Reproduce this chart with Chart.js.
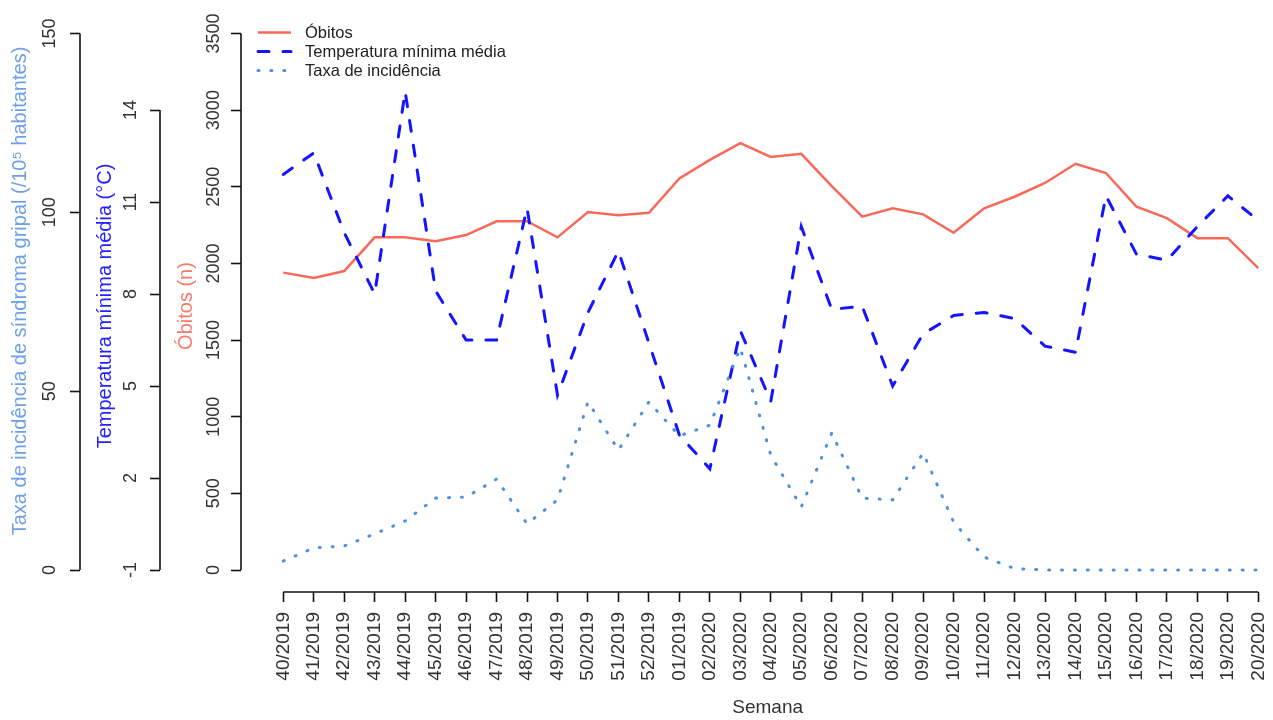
<!DOCTYPE html>
<html lang="pt">
<head>
<meta charset="utf-8">
<title>Óbitos, temperatura mínima e incidência de síndrome gripal</title>
<script src="https://cdn.jsdelivr.net/npm/chart.js@4.4.1/dist/chart.umd.min.js"></script>
<style>
  html, body { margin: 0; padding: 0; background: #fff; }
  #wrap { width: 1273px; height: 720px; position: relative; }
</style>
</head>
<body>
<div id="wrap"><canvas id="chart"></canvas></div>
<script>
// Semanas epidemiológicas
const semanas = [
    '40/2019', '41/2019', '42/2019', '43/2019', '44/2019', '45/2019', '46/2019',
    '47/2019', '48/2019', '49/2019', '50/2019', '51/2019', '52/2019', '01/2019',
    '02/2020', '03/2020', '04/2020', '05/2020', '06/2020', '07/2020', '08/2020',
    '09/2020', '10/2020', '11/2020', '12/2020', '13/2020', '14/2020', '15/2020',
    '16/2020', '17/2020', '18/2020', '19/2020', '20/2020'
];

// Óbitos (n)
const obitos = [1940, 1905, 1950, 2170, 2170, 2145, 2185, 2275, 2275, 2170, 2335,
    2315, 2330, 2555, 2675, 2785, 2695, 2715, 2505, 2305, 2360, 2320, 2200,
    2360, 2435, 2525, 2650, 2590, 2370, 2295, 2165, 2165, 1970];

// Temperatura mínima média (°C)
const temperatura = [11.9, 12.6, 10.0, 8.0, 14.6, 8.1, 6.5, 6.5, 10.8, 4.7, 7.4,
    9.4, 6.4, 3.4, 2.3, 6.8, 4.5, 10.2, 7.5, 7.6, 5.0, 6.7, 7.3, 7.4, 7.2, 6.3,
    6.1, 11.2, 9.3, 9.1, 10.2, 11.2, 10.4];

// Taxa de incidência de síndrome gripal (/10^5 habitantes)
const incidencia = [2.5, 6.2, 6.7, 10.1, 13.7, 20.1, 20.4, 25.4, 12.9, 19.6, 47.0,
    33.5, 47.0, 37.5, 40.5, 62.1, 32.1, 17.6, 38.3, 20.1, 19.6, 32.7, 13.4, 3.6,
    0.4, 0, 0, 0, 0, 0, 0, 0, 0];

// Marcas dos eixos
const ticksObitos = [0, 500, 1000, 1500, 2000, 2500, 3000, 3500];
const ticksTemp = [-1, 2, 5, 8, 11, 14];
const ticksIncidencia = [0, 50, 100, 150];

const toPoints = (arr) => arr.map((v, i) => ({ x: i, y: v }));
const setTicks = (vals) => (scale) => { scale.ticks = vals.map(v => ({ value: v })); };

Chart.defaults.font.family = '"Liberation Sans", Arial, Helvetica, sans-serif';

// Axis lines only between first and last tick (R style)
const axisLines = {
    id: 'axisLines',
    afterDraw(chart) {
        const ctx = chart.ctx;
        ctx.save();
        ctx.strokeStyle = '#111';
        ctx.lineWidth = 1.6;
        ['y', 'yTemp', 'yInc'].forEach(id => {
            const s = chart.scales[id];
            const t = s.ticks;
            ctx.beginPath();
            ctx.moveTo(s.right, s.getPixelForValue(t[0].value));
            ctx.lineTo(s.right, s.getPixelForValue(t[t.length - 1].value));
            ctx.stroke();
        });
        const sx = chart.scales.x;
        const tx = sx.ticks;
        ctx.beginPath();
        ctx.moveTo(sx.getPixelForValue(tx[0].value), sx.top);
        ctx.lineTo(sx.getPixelForValue(tx[tx.length - 1].value), sx.top);
        ctx.stroke();
        ctx.restore();
    }
};

// Legend inside the plot, top left
const legendaR = {
    id: 'legendaR',
    afterDraw(chart) {
        const ctx = chart.ctx;
        const x0 = chart.chartArea.left + 16;
        ctx.save();
        ctx.font = '16.5px "Liberation Sans", Arial, sans-serif';
        ctx.textBaseline = 'middle';
        chart.data.datasets.forEach((ds, i) => {
            const y = 32.5 + i * 19;
            ctx.strokeStyle = ds.borderColor;
            ctx.lineWidth = ds.borderWidth;
            ctx.lineCap = ds.borderCapStyle || 'butt';
            ctx.setLineDash(ds.borderDash || []);
            ctx.beginPath();
            ctx.moveTo(x0 + 1, y);
            ctx.lineTo(x0 + 34, y);
            ctx.stroke();
            ctx.setLineDash([]);
            ctx.fillStyle = '#222';
            ctx.fillText(ds.label, x0 + 48, y + 1);
        });
        ctx.restore();
    }
};

const ctx = document.getElementById('chart');
new Chart(ctx, {
    type: 'line',
    data: {
        datasets: [{
            label: 'Óbitos',
            data: toPoints(obitos),
            yAxisID: 'y',
            borderColor: '#f8695a',
            borderWidth: 2.5,
            order: 3
        }, {
            label: 'Temperatura mínima média',
            data: toPoints(temperatura),
            yAxisID: 'yTemp',
            borderColor: '#1414ff',
            borderWidth: 3,
            borderDash: [11, 14],
            borderCapStyle: 'round',
            order: 2
        }, {
            label: 'Taxa de incidência',
            data: toPoints(incidencia),
            yAxisID: 'yInc',
            borderColor: '#4f8fdf',
            borderWidth: 3,
            borderDash: [1, 11.9],
            borderCapStyle: 'round',
            order: 1
        }]
    },
    options: {
        responsive: true,
        maintainAspectRatio: false,
        animation: false,
        layout: { padding: { top: 20, right: 3, bottom: 0, left: 0 } },
        elements: {
            point: { radius: 0 },
            line: { tension: 0, fill: false }
        },
        plugins: {
            legend: { display: false },
            tooltip: { enabled: false }
        },
        scales: {
            x: {
                type: 'linear',
                position: 'bottom',
                min: -1.388,
                max: 32.384,
                afterBuildTicks: setTicks(semanas.map((_, i) => i)),
                afterFit: (s) => {
                    s.height = 128;
                    s.paddingLeft = 0;
                    s.paddingRight = 0;
                },
                border: { display: false },
                grid: { drawOnChartArea: false, tickLength: 10, tickColor: '#111', tickWidth: 1.6 },
                ticks: {
                    autoSkip: false,
                    minRotation: 90,
                    maxRotation: 90,
                    padding: 10,
                    color: '#333',
                    font: { size: 19 },
                    callback: (v) => semanas[v]
                },
                title: {
                    display: true,
                    // leading space centres the word under the tick range, as in the original
                    text: '\u2003 Semana',
                    color: '#333',
                    font: { size: 19 },
                    padding: { top: 0, bottom: 1 }
                }
            },
            y: {
                position: 'left',
                weight: 0,
                min: -143.5,
                max: 3588,
                afterBuildTicks: setTicks(ticksObitos),
                afterFit: (s) => { s.width = 81; },
                border: { display: false },
                grid: { drawOnChartArea: false, tickLength: 10, tickColor: '#111', tickWidth: 1.6 },
                ticks: {
                    minRotation: 90,
                    maxRotation: 90,
                    crossAlign: 'center',
                    padding: -3,
                    color: '#333',
                    font: { size: 18 },
                    callback: (v) => String(v)
                },
                title: {
                    display: true,
                    text: 'Óbitos (n)',
                    color: '#f87a6a',
                    font: { size: 20 },
                    padding: { top: 14, bottom: 0 }
                }
            },
            yTemp: {
                position: 'left',
                weight: 1,
                min: -1.717,
                max: 16.935,
                afterBuildTicks: setTicks(ticksTemp),
                afterFit: (s) => { s.width = 80; },
                border: { display: false },
                grid: { drawOnChartArea: false, tickLength: 10, tickColor: '#111', tickWidth: 1.6 },
                ticks: {
                    minRotation: 90,
                    maxRotation: 90,
                    crossAlign: 'center',
                    padding: 9,
                    color: '#333',
                    font: { size: 18 },
                    callback: (v) => String(v)
                },
                title: {
                    display: true,
                    text: 'Temperatura mínima média (°C)',
                    color: '#2323ff',
                    font: { size: 20 },
                    padding: { top: 13, bottom: 0 }
                }
            },
            yInc: {
                position: 'left',
                weight: 2,
                min: -6.15,
                max: 153.76,
                afterBuildTicks: setTicks(ticksIncidencia),
                afterFit: (s) => { s.width = 80; },
                border: { display: false },
                grid: { drawOnChartArea: false, tickLength: 10, tickColor: '#111', tickWidth: 1.6 },
                ticks: {
                    minRotation: 90,
                    maxRotation: 90,
                    crossAlign: 'center',
                    padding: 5,
                    color: '#333',
                    font: { size: 18 },
                    callback: (v) => String(v)
                },
                title: {
                    display: true,
                    // leading space lifts the text a little, as in the original
                    text: '\u2003\u2002Taxa de incidência de síndroma gripal (/10⁵ habitantes)',
                    color: '#6f9fe6',
                    font: { size: 20 },
                    padding: { top: 8, bottom: 0 }
                }
            }
        }
    },
    plugins: [axisLines, legendaR]
});
</script>
</body>
</html>
